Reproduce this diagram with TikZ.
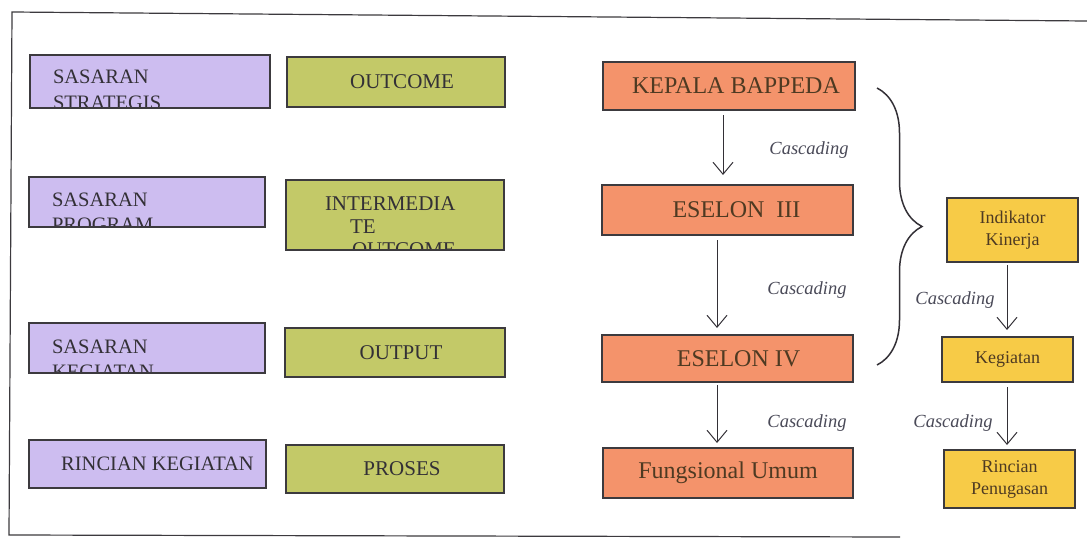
\documentclass[tikz,border=0pt]{standalone}
\usepackage{fontspec}
\setmainfont{Liberation Serif}[Ligatures=TeX]
\usetikzlibrary{arrows.meta,decorations.pathreplacing}

\definecolor{sasaranPurple}{HTML}{CDBDF0}
\definecolor{levelGreen}{HTML}{C3C968}
\definecolor{eselonOrange}{HTML}{F4936B}
\definecolor{kinerjaYellow}{HTML}{F7CB47}
\definecolor{boxLine}{HTML}{3C3A3E}
\definecolor{inkGray}{HTML}{333036}
\definecolor{inkBrown}{HTML}{4E3A22}
\definecolor{cascGray}{HTML}{4A4A58}

\tikzset{
  box/.style={draw=boxLine, line width=1.8pt, inner sep=0pt, outer sep=0pt, text=inkGray},
  purplebox/.style={box, fill=sasaranPurple, font=\rmfamily\fontsize{20.5}{25}\selectfont},
  greenbox/.style={box, fill=levelGreen, font=\rmfamily\fontsize{21}{23}\selectfont},
  orangebox/.style={box, fill=eselonOrange, text=inkBrown, font=\rmfamily\fontsize{24}{26}\selectfont},
  yellowbox/.style={box, fill=kinerjaYellow, text=inkBrown, align=center, font=\rmfamily\fontsize{18}{22}\selectfont},
  cuttext/.style n args={3}{path picture={
      \node[anchor=north west, align=left, inner sep=0pt, minimum width=0pt, minimum height=0pt,
            draw=none, fill=none, text=inkGray, font=\rmfamily#2]
        at ([shift={#1}]path picture bounding box.north west) {#3};}},
  cascade/.style={draw=inkGray, line width=1pt, -{Straight Barb[length=12pt,width=20pt]}},
  cascadelabel/.style={font=\rmfamily\fontsize{18.5}{20}\selectfont\itshape, text=cascGray},
}

\begin{document}
\begin{tikzpicture}[x=1pt,y=-1pt]
  \useasboundingbox (0,0) rectangle (1087,541);

  \draw[boxLine, line width=1.2pt] (1087,21) -- (12,12) -- (9,535) -- (900,537); % frame

  % sasaran column
  \node[purplebox, minimum width=240pt, minimum height=53pt,
        cuttext={(23pt,-15pt)}{\fontsize{20.5}{26}\selectfont}{SASARAN\\STRATEGIS}] (sasStrat) at (150,81.5) {};
  \node[purplebox, minimum width=236pt, minimum height=50pt,
        cuttext={(23pt,-16pt)}{\fontsize{20.5}{25}\selectfont}{SASARAN\\PROGRAM}] (sasProg) at (147,202) {};
  \node[purplebox, minimum width=236pt, minimum height=50pt,
        cuttext={(23pt,-17pt)}{\fontsize{20.5}{25}\selectfont}{SASARAN\\KEGIATAN}] (sasKeg) at (147,348) {};
  \node[purplebox, minimum width=237pt, minimum height=48pt] (rincKeg) at (147.5,464) {\hspace{20pt}RINCIAN KEGIATAN};

  % result column
  \node[greenbox, minimum width=218pt, minimum height=50pt] (outcome) at (396,82) {\hspace{12pt}OUTCOME};
  \node[greenbox, minimum width=218pt, minimum height=70pt,
        cuttext={(39pt,-17pt)}{\fontsize{21}{23}\selectfont}{INTERMEDIA\\\hspace{25pt}TE\\\hspace{27pt}OUTCOME}] (interOut) at (395,215) {};
  \node[greenbox, minimum width=220pt, minimum height=49pt] (output) at (395,352.5) {\hspace{12pt}OUTPUT};
  \node[greenbox, minimum width=218pt, minimum height=48pt] (proses) at (395,469) {\hspace{14pt}PROSES};

  % eselon column
  \node[orangebox, minimum width=252pt, minimum height=48pt] (kepala) at (729,86) {\hspace{14pt}KEPALA BAPPEDA};
  \node[orangebox, minimum width=251pt, minimum height=50pt] (eselonIII) at (727.5,210) {\hspace{18pt}ESELON\ \ III};
  \node[orangebox, minimum width=251pt, minimum height=47pt] (eselonIV) at (727.5,358.5) {\hspace{22pt}ESELON IV};
  \node[orangebox, minimum width=250pt, minimum height=50pt] (fungsional) at (728,473) {Fungsional Umum};

  % kinerja column
  \node[yellowbox, minimum width=131pt, minimum height=64pt] (indikator) at (1012.5,230) {Indikator\\Kinerja};
  \node[yellowbox, minimum width=131pt, minimum height=45pt] (kegiatan) at (1007.5,359.5) {Kegiatan};
  \node[yellowbox, minimum width=131pt, minimum height=58pt] (rincTugas) at (1009.5,479) {Rincian\\Penugasan};

  % cascading arrows
  \draw[cascade] ([xshift=-6pt,yshift=-5pt]kepala.south) -- ([xshift=-4.5pt,yshift=10pt]eselonIII.north);
  \draw[cascade] ([xshift=-10.5pt,yshift=-5pt]eselonIII.south) -- ([xshift=-10.5pt,yshift=7pt]eselonIV.north);
  \draw[cascade] ([xshift=-10.5pt,yshift=-3pt]eselonIV.south) -- ([xshift=-11pt,yshift=5pt]fungsional.north);
  \draw[cascade] ([xshift=-5.5pt,yshift=-3pt]indikator.south) -- ([xshift=-0.5pt,yshift=7pt]kegiatan.north);
  \draw[cascade] ([xshift=-0.5pt,yshift=-5pt]kegiatan.south) -- ([xshift=-2.5pt,yshift=5pt]rincTugas.north);

  \node[cascadelabel] (casA) at (809,150) {Cascading};
  \node[cascadelabel] (casB) at (807,290) {Cascading};
  \node[cascadelabel] (casC) at (807,423) {Cascading};
  \node[cascadelabel] (casD) at (955,300) {Cascading};
  \node[cascadelabel] (casE) at (953,423) {Cascading};

  % brace
  \draw[inkGray, line width=1.5pt, decorate, decoration={brace, amplitude=45pt}]
    ([xshift=22pt,yshift=-2pt]kepala.east) -- ([xshift=24pt,yshift=-6.5pt]eselonIV.east);
\end{tikzpicture}
\end{document}
